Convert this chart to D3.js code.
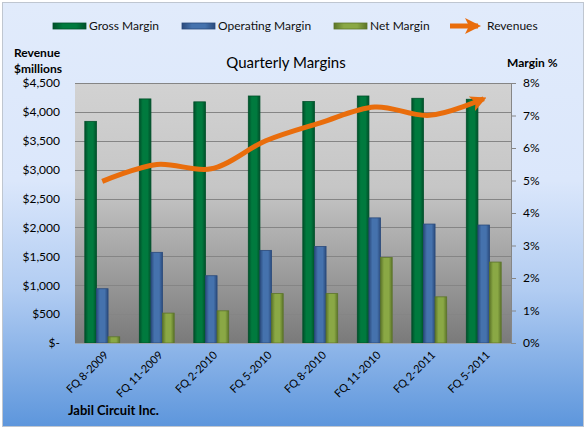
<!DOCTYPE html>
<html>
<head>
<meta charset="utf-8">
<script src="https://cdn.jsdelivr.net/npm/d3@7"></script>
<style>
  body { margin: 0; background: #fff; }
  svg { display: block; font-family: Lato, "Open Sans", sans-serif; }
  .tick_labels { font-size: 12px; fill: #000; }
  .legend_labels { font-size: 12px; fill: #111; }
  .axis_titles { font-size: 12px; font-weight: bold; fill: #000; }
</style>
</head>
<body>
<svg id="svg-margins" width="587" height="430"></svg>
<script>
// data
var quarters = ["FQ 8-2009", "FQ 11-2009", "FQ 2-2010", "FQ 5-2010",
                "FQ 8-2010", "FQ 11-2010", "FQ 2-2011", "FQ 5-2011"];
var grossMargin = [6.82, 7.51, 7.42, 7.60, 7.43, 7.60, 7.53, 7.50];
var operatingMargin = [1.67, 2.79, 2.07, 2.85, 2.97, 3.85, 3.66, 3.63];
var netMargin = [0.19, 0.92, 0.99, 1.52, 1.52, 2.63, 1.42, 2.49];
var revenues = [2797, 3090, 3015, 3500, 3810, 4085, 3940, 4228];
var revenueTicks = [0, 500, 1000, 1500, 2000, 2500, 3000, 3500, 4000, 4500];
var marginTicks = [0, 1, 2, 3, 4, 5, 6, 7, 8];
var seriesNames = ["Gross Margin", "Operating Margin", "Net Margin"];

var svg = d3.select("#svg-margins");
var p_left = 75, p_right = 511, p_top = 83, p_bottom = 343;

var colors = {
  "Gross Margin": ["#00502a", "#007a3e"],
  "Operating Margin": ["#2a4a7c", "#4572ad"],
  "Net Margin": ["#5c7529", "#8aa845"]
};
var orange = "#e96d0c";

var defs = svg.append("defs");
var bgGrad = defs.append("linearGradient").attr("id", "bg").attr("x1", 0).attr("y1", 0).attr("x2", 0).attr("y2", 1);
[[0, "#e1ebfb"], [0.42, "#dbe7fb"], [0.68, "#b1ccf2"], [1, "#5d96dc"]].forEach(function(s) {
  bgGrad.append("stop").attr("offset", s[0]).attr("stop-color", s[1]);
});
var plotGrad = defs.append("linearGradient").attr("id", "plotbg").attr("x1", 0).attr("y1", 0).attr("x2", 0).attr("y2", 1);
[[0, "#d2d2d2"], [0.4, "#c6c6c6"], [1, "#7a7a7a"]].forEach(function(s) {
  plotGrad.append("stop").attr("offset", s[0]).attr("stop-color", s[1]);
});
seriesNames.forEach(function(name, i) {
  var g = defs.append("linearGradient").attr("id", "bar" + i).attr("x1", 0).attr("y1", 0).attr("x2", 1).attr("y2", 0);
  g.append("stop").attr("offset", 0).attr("stop-color", colors[name][0]);
  g.append("stop").attr("offset", 0.3).attr("stop-color", colors[name][1]);
  g.append("stop").attr("offset", 0.7).attr("stop-color", colors[name][1]);
  g.append("stop").attr("offset", 1).attr("stop-color", colors[name][0]);
});
defs.append("marker")
    .attr("id", "arrow")
    .attr("markerUnits", "userSpaceOnUse")
    .attr("viewBox", "0 0 16 16")
    .attr("markerWidth", 16)
    .attr("markerHeight", 16)
    .attr("refX", 13)
    .attr("refY", 8)
    .attr("orient", "auto")
    .append("path")
    .attr("d", "M0,0 L16,8 L0,16 L4,8 Z")
    .style("fill", orange);

// chart area
svg.append("rect")
    .attr("x", 2.5).attr("y", 2.5).attr("width", 581).attr("height", 424)
    .style("fill", "url(#bg)")
    .style("stroke", "#bfc6d0");

svg.append("rect")
    .attr("x", p_left).attr("y", p_top).attr("width", p_right - p_left).attr("height", p_bottom - p_top)
    .style("fill", "url(#plotbg)");

var xScale = d3.scaleBand()
               .domain(quarters)
               .range([p_left, p_right])
               .paddingInner(0.36)
               .paddingOuter(0.18);
var xSeries = d3.scaleBand()
                .domain(seriesNames)
                .range([0, xScale.bandwidth()]);
var yRevenue = d3.scaleLinear().domain([0, 4500]).range([p_bottom, p_top]);
var yMargin = d3.scaleLinear().domain([0, 8]).range([p_bottom, p_top]);

// gridlines
svg.selectAll("gridlines")
    .data(revenueTicks.slice(1))
    .enter()
    .append("line")
    .attr("x1", p_left).attr("x2", p_right)
    .attr("y1", function(d) { return Math.round(yRevenue(d)) + 0.5; })
    .attr("y2", function(d) { return Math.round(yRevenue(d)) + 0.5; })
    .style("stroke", "#858585")
    .style("stroke-width", 1);

// left axis
var leftAxis = svg.append("g")
    .attr("transform", "translate(" + p_left + ",0)")
    .call(d3.axisLeft(yRevenue)
            .tickValues(revenueTicks)
            .tickSize(0)
            .tickPadding(15)
            .tickFormat(function(d) { return d == 0 ? "$-" : "$" + d3.format(",")(d); }));
leftAxis.select(".domain").remove();
leftAxis.attr("font-family", null).attr("font-size", null);
leftAxis.selectAll("text").attr("class", "tick_labels");

// right axis
var rightAxis = svg.append("g")
    .attr("transform", "translate(" + p_right + ",0)")
    .call(d3.axisRight(yMargin)
            .tickValues(marginTicks)
            .tickSize(5)
            .tickSizeOuter(0)
            .tickPadding(7)
            .tickFormat(function(d) { return d + "%"; }));
rightAxis.attr("font-family", null).attr("font-size", null);
rightAxis.select(".domain").style("stroke", "#868686");
rightAxis.selectAll("line").style("stroke", "#868686");
rightAxis.selectAll("text").attr("class", "tick_labels");

// bars
var groups = svg.selectAll("bar_groups")
    .data(quarters)
    .enter()
    .append("g")
    .attr("transform", function(d) { return "translate(" + xScale(d) + ",0)"; });
var allSeries = [grossMargin, operatingMargin, netMargin];
groups.selectAll("rect")
    .data(function(d, i) {
      return seriesNames.map(function(s, j) { return {series: s, idx: j, value: allSeries[j][i]}; });
    })
    .enter()
    .append("rect")
    .attr("x", function(d) { return xSeries(d.series); })
    .attr("y", function(d) { return yMargin(d.value); })
    .attr("width", xSeries.bandwidth())
    .attr("height", function(d) { return p_bottom - yMargin(d.value); })
    .style("fill", function(d) { return "url(#bar" + d.idx + ")"; })
    .style("stroke", function(d) { return colors[d.series][0]; })
    .style("stroke-width", 0.8);

// bottom axis line
svg.append("line")
    .attr("x1", p_left).attr("x2", p_right)
    .attr("y1", p_bottom + 0.5).attr("y2", p_bottom + 0.5)
    .style("stroke", "#9aa3ad");

// x labels
svg.selectAll("x_labels")
    .data(quarters)
    .enter()
    .append("text")
    .attr("class", "tick_labels")
    .attr("transform", function(d) {
      return "translate(" + (xScale(d) + xScale.bandwidth() / 2 + 4) + "," + (p_bottom + 10) + ") rotate(-45)";
    })
    .style("text-anchor", "end")
    .style("font-size", "11px")
    .attr("dy", "0.35em")
    .text(function(d) { return d; });

// revenue line
var line = d3.line()
    .x(function(d, i) { return xScale(quarters[i]) + xScale.bandwidth() / 2; })
    .y(function(d) { return yRevenue(d); })
    .curve(d3.curveCatmullRom.alpha(0.5));
svg.append("path")
    .datum(revenues)
    .attr("d", line)
    .style("fill", "none")
    .style("stroke", orange)
    .style("stroke-width", 5)
    .attr("marker-end", "url(#arrow)");

// legend
var legendX = [53, 182, 334];
svg.selectAll("legend_swatches")
    .data(seriesNames)
    .enter()
    .append("rect")
    .attr("x", function(d, i) { return legendX[i]; })
    .attr("y", 23)
    .attr("width", 33)
    .attr("height", 6)
    .style("fill", function(d, i) { return "url(#bar" + i + ")"; })
    .style("stroke", function(d) { return colors[d][0]; })
    .style("stroke-width", 0.8);
svg.selectAll("legend_labels")
    .data(seriesNames)
    .enter()
    .append("text")
    .attr("class", "legend_labels")
    .attr("x", function(d, i) { return legendX[i] + 36; })
    .attr("y", 30)
    .text(function(d) { return d; });
svg.append("line")
    .attr("x1", 450).attr("x2", 478)
    .attr("y1", 26).attr("y2", 26)
    .style("stroke", orange)
    .style("stroke-width", 5)
    .attr("marker-end", "url(#arrow)");
svg.append("text")
    .attr("class", "legend_labels")
    .attr("x", 487)
    .attr("y", 30)
    .text("Revenues");

// titles
svg.append("text")
    .attr("x", 286)
    .attr("y", 68)
    .style("text-anchor", "middle")
    .style("font-size", "15px")
    .text("Quarterly Margins");
svg.append("text")
    .attr("class", "axis_titles")
    .attr("x", 14)
    .attr("y", 57)
    .text("Revenue");
svg.append("text")
    .attr("class", "axis_titles")
    .attr("x", 14)
    .attr("y", 73)
    .text("$millions");
svg.append("text")
    .attr("class", "axis_titles")
    .attr("x", 507)
    .attr("y", 67)
    .text("Margin %");
svg.append("text")
    .attr("class", "axis_titles")
    .attr("x", 68)
    .attr("y", 415)
    .style("font-size", "13px")
    .text("Jabil Circuit Inc.");
</script>
</body>
</html>
